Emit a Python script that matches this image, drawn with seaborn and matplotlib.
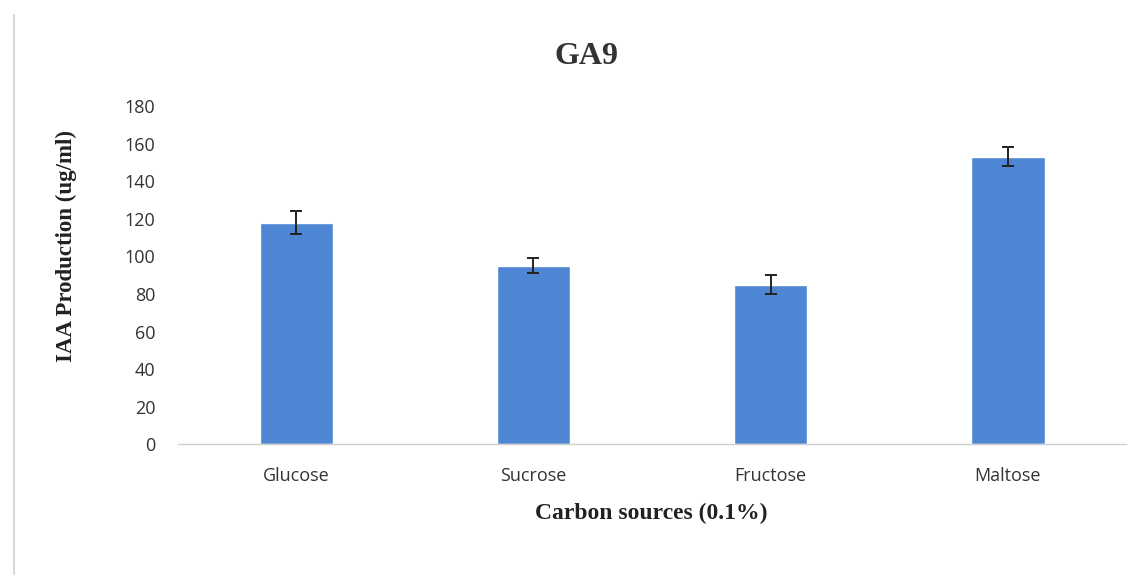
import matplotlib
matplotlib.use("Agg")
import matplotlib.pyplot as plt
import seaborn as sns
import pandas as pd
from matplotlib.lines import Line2D

categories = ["Glucose", "Sucrose", "Fructose", "Maltose"]
values = [118, 95, 85, 153]
errors = [6, 4, 5, 5]
yticks = [0, 20, 40, 60, 80, 100, 120, 140, 160, 180]

df = pd.DataFrame({"source": categories, "iaa": values})

sns.set_theme(style="white")
plt.rcParams["font.family"] = ["Open Sans", "DejaVu Sans"]

fig = plt.figure(figsize=(11.39, 5.8), dpi=100)
ax = fig.add_axes([0.156, 0.234, 0.833, 0.583])

sns.barplot(data=df, x="source", y="iaa", color="#4F86D4", width=0.31,
            saturation=1, ax=ax, errorbar=None)
ax.errorbar(range(len(categories)), values, yerr=errors, fmt="none",
            ecolor="#222222", elinewidth=1.4, capsize=4.5, capthick=1.4)

ax.set_ylim(0, 180)
ax.set_xlim(-0.5, 3.5)
ax.set_yticks(yticks)
ax.tick_params(axis="both", labelsize=13, colors="#333333", length=0)
ax.tick_params(axis="x", pad=16)
ax.tick_params(axis="y", pad=16)
for s in ["top", "right", "left"]:
    ax.spines[s].set_visible(False)
ax.spines["bottom"].set_color("#d0d0d0")
ax.spines["bottom"].set_linewidth(1)
ax.set_xlabel("")
ax.set_ylabel("")

fig.text(0.572, 0.1155, "Carbon sources (0.1%)", family=["Liberation Serif"],
         fontsize=17, fontweight="bold", ha="center", va="center", color="#222222")
fig.text(66 / 1139, 0.576, "IAA Production (ug/ml)", family=["Liberation Serif"],
         fontsize=16.5, fontweight="bold", ha="center", va="center",
         rotation=90, color="#222222")
fig.text(0.515, 0.903, "GA9", family=["Liberation Serif"], fontsize=23,
         fontweight="bold", ha="center", va="center", color="#333333")

fig.add_artist(Line2D([14 / 1139, 14 / 1139], [0.01, 0.975],
                      transform=fig.transFigure, color="#d8d8d8", lw=1.5))

fig.savefig("out.png", dpi=100)
